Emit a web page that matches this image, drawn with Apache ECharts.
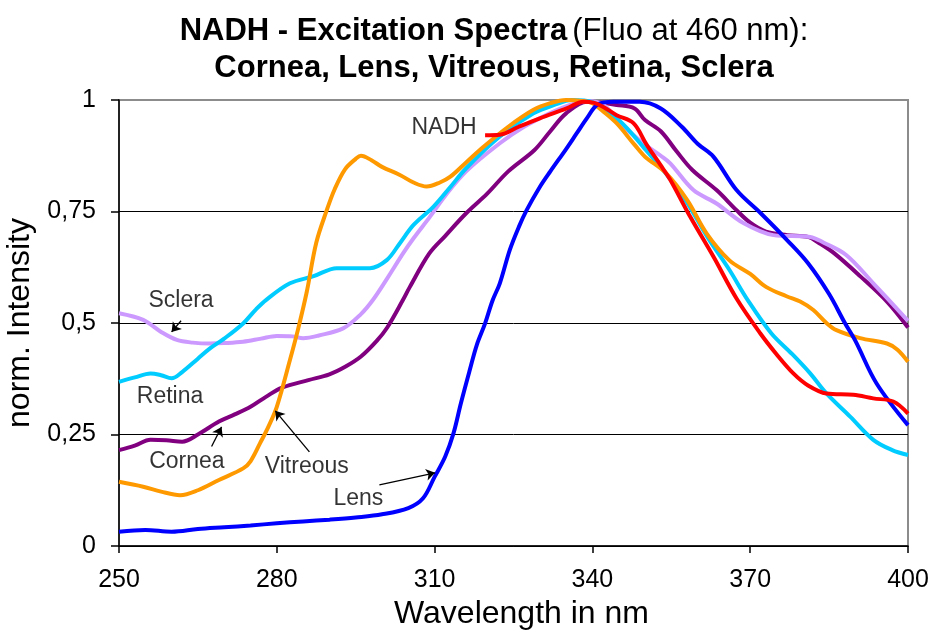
<!DOCTYPE html>
<html>
<head>
<meta charset="utf-8">
<script src="https://cdn.jsdelivr.net/npm/echarts@6/dist/echarts.min.js"></script>
<style>
  html, body { margin: 0; padding: 0; background: #fff; }
  #chart { width: 934px; height: 633px; }
</style>
</head>
<body>
<div id="chart"></div>
<script>
// Excitation spectra (emission fixed at 460 nm), normalised to 1.
const xTicks = [250, 280, 310, 340, 370, 400];

const lensNm  = [250, 255, 260, 265, 270, 275, 280, 285, 290, 295, 300, 305, 307.8, 310, 312, 313.6, 315, 316.7, 318, 319.6, 321, 322.4, 324.3, 326, 327.5, 330, 332, 335, 337, 339, 341, 344, 349, 353, 357, 360, 363, 367.4, 372, 377, 381, 385, 388, 390, 394, 400];
const lensVal = [0.032, 0.036, 0.032, 0.038, 0.042, 0.046, 0.051, 0.055, 0.059, 0.064, 0.071, 0.085, 0.107, 0.155, 0.2, 0.253, 0.32, 0.395, 0.45, 0.499, 0.55, 0.589, 0.664, 0.715, 0.753, 0.805, 0.84, 0.89, 0.925, 0.96, 0.99, 0.996, 0.996, 0.981, 0.94, 0.902, 0.873, 0.798, 0.746, 0.686, 0.634, 0.565, 0.5, 0.46, 0.365, 0.271];

const corneaNm  = [250, 253, 256, 259, 262, 265, 269, 272, 275, 278, 281, 286, 290, 293, 296, 299, 301, 304, 305.3, 309, 312, 316, 320, 324, 329, 332, 335, 339, 341, 344.6, 348, 350, 353, 356, 359, 363.6, 367.4, 370, 373, 377, 381, 383, 386, 391, 396, 400];
const corneaVal = [0.215, 0.225, 0.238, 0.237, 0.234, 0.25, 0.279, 0.295, 0.312, 0.335, 0.355, 0.372, 0.385, 0.402, 0.425, 0.46, 0.49, 0.552, 0.581, 0.656, 0.695, 0.746, 0.79, 0.84, 0.888, 0.93, 0.97, 0.996, 0.995, 0.989, 0.981, 0.955, 0.93, 0.885, 0.843, 0.798, 0.753, 0.725, 0.705, 0.697, 0.693, 0.68, 0.656, 0.604, 0.548, 0.49];

const vitreousNm  = [250, 254.6, 258, 261.6, 265, 269, 273.6, 275, 276.8, 278.5, 280, 282.5, 284, 285.7, 287.5, 289.5, 291, 293, 295, 296, 298, 300, 303.4, 306, 308.5, 311, 313, 316, 319.3, 324, 328.8, 332, 335, 338, 340, 342, 344.6, 348, 350, 354, 358, 361.7, 366, 370, 373, 376.9, 379.5, 382, 384.5, 386.4, 390.9, 396, 398, 400];
const vitreousVal = [0.144, 0.133, 0.122, 0.114, 0.125, 0.148, 0.174, 0.19, 0.23, 0.27, 0.312, 0.417, 0.484, 0.57, 0.68, 0.753, 0.8, 0.845, 0.868, 0.875, 0.865, 0.85, 0.832, 0.815, 0.806, 0.815, 0.828, 0.86, 0.895, 0.94, 0.978, 0.993, 1.0, 0.998, 0.993, 0.975, 0.948, 0.9, 0.873, 0.836, 0.776, 0.701, 0.641, 0.61, 0.581, 0.56, 0.548, 0.529, 0.5, 0.484, 0.466, 0.454, 0.44, 0.413];

const retinaNm  = [250, 253, 256, 258, 260, 262, 265, 267.3, 270, 273.6, 276, 278, 282.5, 287, 291.4, 297.7, 300.9, 303.4, 306, 309.8, 313, 316, 322.4, 328.8, 333, 336, 340, 345, 350, 355, 358, 362, 366, 369.5, 374, 378, 381.4, 384.5, 389, 393.4, 397, 400];
const retinaVal = [0.368, 0.378, 0.387, 0.383, 0.376, 0.39, 0.42, 0.443, 0.465, 0.499, 0.53, 0.552, 0.589, 0.605, 0.623, 0.623, 0.641, 0.679, 0.72, 0.761, 0.805, 0.847, 0.918, 0.97, 0.99, 1.0, 0.995, 0.955, 0.89, 0.82, 0.77, 0.69, 0.62, 0.552, 0.477, 0.43, 0.387, 0.342, 0.29, 0.238, 0.215, 0.204];

const scleraNm  = [250, 254.6, 258, 261, 264, 267.3, 270, 273.6, 277, 280, 283, 285, 288, 292.6, 296, 298.3, 301, 304, 306, 309.1, 312, 316, 322.4, 327, 331.9, 336, 339, 342, 346, 350, 353, 354.8, 359.2, 363.6, 368.7, 374.4, 381.4, 384, 388.3, 393.4, 400];
const scleraVal = [0.522, 0.507, 0.48, 0.462, 0.456, 0.454, 0.455, 0.458, 0.465, 0.471, 0.47, 0.466, 0.472, 0.488, 0.52, 0.552, 0.6, 0.656, 0.69, 0.738, 0.785, 0.84, 0.903, 0.94, 0.97, 0.99, 0.998, 0.99, 0.94, 0.9, 0.875, 0.858, 0.798, 0.768, 0.724, 0.697, 0.693, 0.68, 0.652, 0.589, 0.505];

const nadhNm  = [319.6, 322.4, 326, 330, 335.1, 338.3, 340.2, 342, 344.6, 347.8, 350.3, 352.9, 354.8, 358.6, 363, 367.4, 371.9, 375, 378.2, 381, 384.5, 389.6, 393.4, 397.2, 400];
const nadhVal = [0.921, 0.922, 0.94, 0.959, 0.981, 0.996, 0.994, 0.985, 0.966, 0.948, 0.9, 0.855, 0.821, 0.738, 0.649, 0.555, 0.477, 0.43, 0.387, 0.36, 0.342, 0.339, 0.331, 0.324, 0.297];

// Curve captions [nm, intensity, text]
const captions = [
  [261.8, 0.549, 'Sclera'],
  [259.7, 0.335, 'Retina'],
  [262.9, 0.189, 'Cornea'],
  [285.7, 0.178, 'Vitreous'],
  [295.5, 0.107, 'Lens'],
  [311.8, 0.939, 'NADH']
];
// Pointer arrows [fromNm, fromVal, toNm, toVal]
const pointers = [
  [261.8, 0.505, 260.0, 0.480],
  [267.6, 0.223, 269.5, 0.267],
  [286.2, 0.211, 279.7, 0.303],
  [299.5, 0.137, 310.1, 0.164]
];

const zip = (xs, ys) => xs.map((x, i) => [x, ys[i]]);
const FONT = '"Liberation Sans", Arial, sans-serif';

function curve(name, xs, ys, color) {
  return {
    name, type: 'line', data: zip(xs, ys),
    smooth: 0.35, showSymbol: false, symbol: 'none',
    lineStyle: { color, width: 4 }, itemStyle: { color },
    silent: true, animation: false
  };
}

const chart = echarts.init(document.getElementById('chart'), null, { renderer: 'canvas' });
chart.setOption({
  backgroundColor: '#fff',
  animation: false,
  title: {
    left: 489, top: 8, textAlign: 'center',
    text: '{b|NADH - Excitation Spectra} {n|(Fluo at 460 nm):}\n{b|Cornea, Lens, Vitreous, Retina, Sclera}',
    textStyle: {
      rich: {
        b: { fontFamily: FONT, fontWeight: 'bold', fontSize: 31, color: '#000', lineHeight: 37 },
        n: { fontFamily: FONT, fontWeight: 'normal', fontSize: 31, color: '#000', lineHeight: 37 }
      }
    }
  },
  grid: {
    left: 119, right: 26, top: 100, bottom: 87,
    containLabel: false, outerBoundsMode: 'none',
    show: true, borderColor: '#8c8c8c', borderWidth: 2, backgroundColor: '#fff'
  },
  xAxis: {
    type: 'value', min: 250, max: 400,
    name: 'Wavelength in nm', nameLocation: 'middle', nameGap: 50,
    nameTextStyle: { fontFamily: FONT, fontSize: 32, color: '#000', padding: [0, 0, 0, 16] },
    axisLine: { lineStyle: { color: '#000', width: 1.5 } },
    axisTick: { show: true, length: 7, inside: false, customValues: xTicks, lineStyle: { color: '#000', width: 1.5 } },
    axisLabel: { customValues: xTicks, margin: 22, fontFamily: FONT, fontSize: 25, color: '#000' },
    splitLine: { show: false }
  },
  yAxis: {
    type: 'value', min: 0, max: 1, interval: 0.25,
    name: 'norm. Intensity', nameLocation: 'middle', nameGap: 72,
    nameTextStyle: { fontFamily: FONT, fontSize: 32, color: '#000' },
    axisLine: { show: true, lineStyle: { color: '#000', width: 1.5 } },
    axisTick: { show: true, length: 8, lineStyle: { color: '#000', width: 1.5 } },
    axisLabel: {
      margin: 23, fontFamily: FONT, fontSize: 25, color: '#000',
      formatter: v => String(v).replace('.', ',')
    },
    splitLine: { show: true, lineStyle: { color: ['#000', '#000', '#000', '#000', '#8c8c8c'], width: 1 } }
  },
  series: [
    curve('Cornea', corneaNm, corneaVal, '#800080'),
    curve('Sclera', scleraNm, scleraVal, '#CC99FF'),
    curve('Retina', retinaNm, retinaVal, '#00CCFF'),
    curve('Vitreous', vitreousNm, vitreousVal, '#FF9900'),
    curve('Lens', lensNm, lensVal, '#0000FF'),
    curve('NADH', nadhNm, nadhVal, '#FF0000'),
    {
      name: 'captions', type: 'scatter', data: captions,
      symbolSize: 0, silent: true, animation: false,
      itemStyle: { color: '#000' },
      label: {
        show: true, position: 'inside', formatter: p => p.data[2],
        fontFamily: FONT, fontSize: 23, color: '#000',
        textBorderWidth: 0, textBorderColor: 'transparent'
      },
      markLine: {
        silent: true, animation: false,
        symbol: ['none', 'arrow'], symbolSize: 9,
        lineStyle: { color: '#000', width: 1.3, type: 'solid' },
        itemStyle: { color: '#000' },
        label: { show: false },
        data: pointers.map(p => [{ coord: [p[0], p[1]] }, { coord: [p[2], p[3]] }])
      }
    }
  ]
});
</script>
</body>
</html>
